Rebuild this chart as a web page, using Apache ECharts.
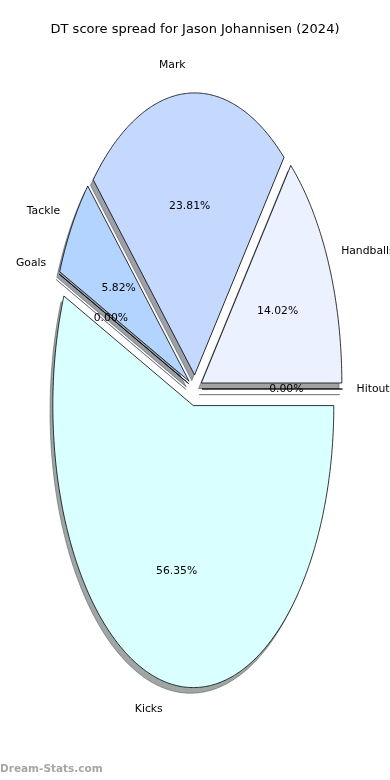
<!DOCTYPE html>
<html>
<head>
<meta charset="utf-8">
<script src="https://cdn.jsdelivr.net/npm/echarts@6/dist/echarts.min.js"></script>
<style>html,body{margin:0;padding:0;background:#fff}#c{width:390px;height:780px}</style>
</head>
<body>
<div id="c"></div>
<script>
// ---- data ----
const titleText = 'DT score spread for Jason Johannisen (2024)';
const categories = ['Handballs', 'Mark', 'Tackle', 'Goals', 'Kicks', 'Hitouts'];
const dtPoints = [106, 180, 44, 0, 426, 0];
const explode = [0.05, 0.05, 0.05, 0.05, 0.06, 0.05];
const watermark = 'Dream-Stats.com';

// ---- styles ----
const sliceColors = ['#ebf1ff', '#c5d9ff', '#b3d4ff', '#a8ccff', '#daffff', '#f0f0ff'];
const FONT = '"DejaVu Sans", sans-serif';

const total = dtPoints.reduce((a, b) => a + b, 0);
const angles = [];
let acc = 0;
dtPoints.forEach(v => {
  const t1 = acc / total * 2 * Math.PI;
  acc += v;
  const t2 = acc / total * 2 * Math.PI;
  angles.push([t1, t2]);
});

function wedgePoints(api, i, dx, dy) {
  const [t1, t2] = angles[i];
  const tm = (t1 + t2) / 2;
  const ox = explode[i] * Math.cos(tm) + dx;
  const oy = explode[i] * Math.sin(tm) + dy;
  const pts = [api.coord([ox, oy])];
  const n = Math.max(1, Math.ceil((t2 - t1) / (Math.PI / 360)));
  for (let k = 0; k <= n; k++) {
    const t = t1 + (t2 - t1) * k / n;
    pts.push(api.coord([ox + Math.cos(t), oy + Math.sin(t)]));
  }
  return pts;
}

function hexToRgb(h) {
  return [parseInt(h.slice(1, 3), 16), parseInt(h.slice(3, 5), 16), parseInt(h.slice(5, 7), 16)];
}

const seriesData = dtPoints.map((v, i) => ({ name: categories[i], value: [0, 0, v] }));

const chart = echarts.init(document.getElementById('c'), null, { renderer: 'canvas' });
chart.setOption({
  animation: false,
  backgroundColor: '#ffffff',
  title: {
    text: titleText,
    left: 'center',
    top: 23,
    padding: 0,
    textStyle: { fontFamily: FONT, fontSize: 13, fontWeight: 'normal', color: '#000' }
  },
  grid: { left: 19.4, right: 19.4, top: 36.5, bottom: 38.5 },
  xAxis: { type: 'value', min: -1.25, max: 1.25, show: false },
  yAxis: { type: 'value', min: -1.25, max: 1.25, show: false },
  graphic: [{
    type: 'text', left: 0, top: 764,
    style: { text: watermark, font: 'bold 10.5px ' + FONT, fill: '#a6a6a6' }
  }],
  series: [
    {
      type: 'custom', z: 1, silent: true,
      encode: { x: 0, y: 1 },
      data: seriesData,
      renderItem: function (params, api) {
        const i = params.dataIndex;
        const c = hexToRgb(sliceColors[i]).map(x => Math.round(x * 0.3));
        const col = 'rgba(' + c.join(',') + ',0.5)';
        return {
          type: 'polygon',
          shape: { points: wedgePoints(api, i, -0.02, -0.02) },
          style: { fill: col, stroke: col, lineWidth: 1 }
        };
      }
    },
    {
      type: 'custom', z: 2, silent: true,
      encode: { x: 0, y: 1 },
      data: seriesData,
      renderItem: function (params, api) {
        const i = params.dataIndex;
        const [t1, t2] = angles[i];
        const tm = (t1 + t2) / 2;
        const ox = explode[i] * Math.cos(tm);
        const oy = explode[i] * Math.sin(tm);
        const lx = ox + 1.1 * Math.cos(tm), ly = oy + 1.1 * Math.sin(tm);
        const lp = api.coord([lx, ly]);
        const pp = api.coord([ox + 0.6 * Math.cos(tm), oy + 0.6 * Math.sin(tm)]);
        const pct = (dtPoints[i] / total * 100).toFixed(2) + '%';
        return {
          type: 'group',
          children: [
            {
              type: 'polygon',
              shape: { points: wedgePoints(api, i, 0, 0) },
              style: { fill: sliceColors[i], stroke: '#000', lineWidth: 0.8, lineJoin: 'miter' }
            },
            {
              type: 'text', z2: 100,
              style: {
                text: categories[i], x: lp[0], y: lp[1],
                align: lx > 0 ? 'left' : 'right', verticalAlign: 'middle',
                font: '10.8px ' + FONT, fill: '#000'
              }
            },
            {
              type: 'text', z2: 100,
              style: {
                text: pct, x: pp[0], y: pp[1],
                align: 'center', verticalAlign: 'middle',
                font: '10.8px ' + FONT, fill: '#000'
              }
            }
          ]
        };
      }
    }
  ]
});
</script>
</body>
</html>
